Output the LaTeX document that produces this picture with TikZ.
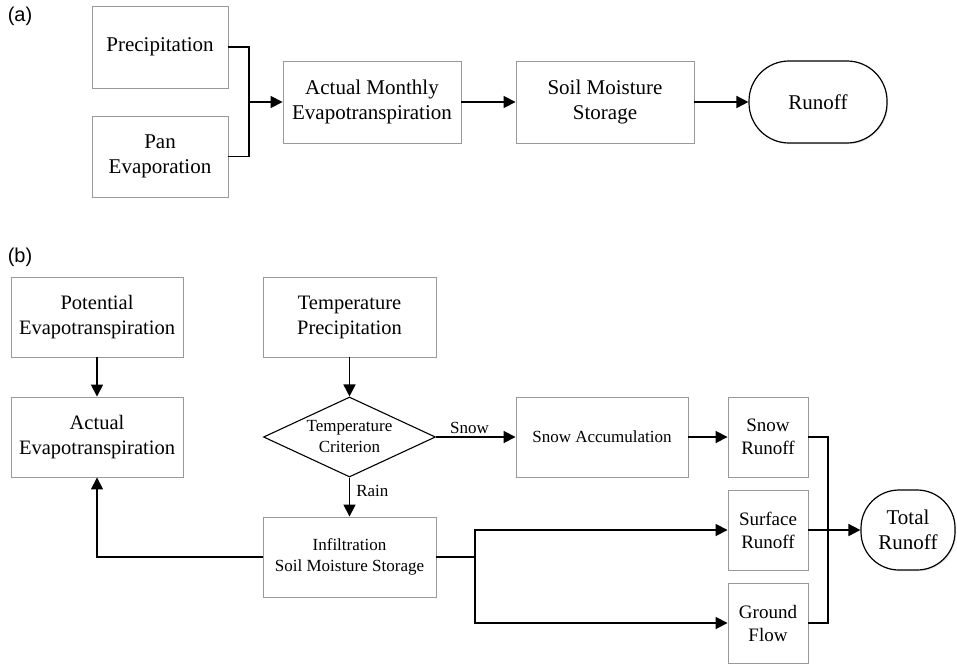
\documentclass[tikz,border=0pt]{standalone}
\usepackage{fontspec}
\setmainfont{Liberation Serif}
\newfontfamily\labelfont{Liberation Sans}
\usetikzlibrary{arrows.meta,shapes.geometric,shadows}
\tikzset{
  box/.style={draw=black!40, line width=0.9pt, fill=white, align=center, inner sep=2pt,
    drop shadow={opacity=0.18, shadow xshift=1.2pt, shadow yshift=-1.2pt}},
  term/.style={draw=black, line width=1.2pt, fill=white, align=center, inner sep=2pt,
    drop shadow={opacity=0.18, shadow xshift=1.2pt, shadow yshift=-1.2pt}},
  decis/.style={diamond, draw=black, line width=1.1pt, fill=white, inner sep=0pt,
    minimum width=172pt, minimum height=80pt},
  conn/.style={line width=1.7pt, draw=black},
  arr/.style={conn, -{Triangle[length=12pt,width=12pt]}},
  biga/.style={font=\fontsize{21}{25}\selectfont},
  big/.style={font=\fontsize{20.5}{25}\selectfont},
  mid/.style={font=\fontsize{17}{22}\selectfont},
  smr/.style={font=\fontsize{19}{23}\selectfont},
  sml/.style={font=\fontsize{17}{21}\selectfont},
  lbl/.style={font=\fontsize{17}{19}\selectfont, inner sep=1pt},
  panel/.style={font=\labelfont\fontsize{20}{22}\selectfont, inner sep=0pt},
}
\begin{document}
\begin{tikzpicture}[x=1pt,y=-1pt]
\useasboundingbox (0,0) rectangle (957,664);
% panel (a)
\node[panel] (la) at (20,16) {(a)};
\node[box,biga,minimum width=136pt,minimum height=82pt] (aprec) at (160,47) {Precipitation};
\node[box,biga,minimum width=136pt,minimum height=81pt] (apan) at (160,156.5) {Pan\\Evaporation};
\node[box,biga,minimum width=178pt,minimum height=82pt] (aamet) at (372,102) {Actual Monthly\\Evapotranspiration};
\node[box,biga,minimum width=178pt,minimum height=82pt] (asms) at (605,102) {Soil Moisture\\Storage};
\node[term,biga,minimum width=138pt,minimum height=82pt,rounded corners=40pt] (arun) at (818,102) {Runoff};
\coordinate (aj) at (249,102);
\draw[conn] (aprec.east) -| (aj);
\draw[conn] (apan.east) -| (aj);
\draw[arr] (aj) -- (aamet.west);
\draw[arr] (aamet.east) -- (asms.west);
\draw[arr] (asms.east) -- (arun.west);
% panel (b)
\node[panel] (lb) at (20,257) {(b)};
\node[box,big,minimum width=172pt,minimum height=80pt] (bpet) at (97,317) {Potential\\Evapotranspiration};
\node[box,big,minimum width=172pt,minimum height=80pt] (baet) at (97,437) {Actual\\Evapotranspiration};
\node[box,big,minimum width=173pt,minimum height=80pt] (btp) at (349.5,317) {Temperature\\Precipitation};
\node[decis, label={[sml,align=center]center:Temperature\\Criterion}] (bdia) at (349.5,437) {};
\node[box,sml,minimum width=173pt,minimum height=80pt] (binf) at (349.5,557) {Infiltration\\Soil Moisture Storage};
\node[box,mid,minimum width=172pt,minimum height=80pt] (bsa) at (602,437) {Snow Accumulation};
\node[box,smr,minimum width=80pt,minimum height=80pt] (bsr) at (768,437) {Snow\\Runoff};
\node[box,smr,minimum width=80pt,minimum height=80pt] (bsfr) at (768,530) {Surface\\Runoff};
\node[box,smr,minimum width=80pt,minimum height=80pt] (bgf) at (768,623) {Ground\\Flow};
\node[term,biga,minimum width=94pt,minimum height=80pt,rounded corners=38pt] (btr) at (908,530) {Total\\Runoff};
\draw[arr] (bpet.south) -- (baet.north);
\draw[arr] (btp.south) -- (bdia.north);
\draw[arr] (bdia.south) -- node[lbl,right,pos=0.35,xshift=5pt] (lrain) {Rain} (binf.north);
\draw[arr] (bdia.east) -- node[lbl,above,pos=0.42,yshift=1pt] (lsnow) {Snow} (bsa.west);
\draw[arr] (bsa.east) -- (bsr.west);
\draw[arr] (binf.west) -| (baet.south);
\coordinate (bj1) at (475,557);
\draw[conn] (binf.east) -- (bj1);
\draw[arr] (bj1) |- (bsfr.west);
\draw[arr] (bj1) |- (bgf.west);
\coordinate (bj2) at (828,530);
\draw[conn] (bsr.east) -| (bj2);
\draw[conn] (bgf.east) -| (bj2);
\draw[arr] (bsfr.east) -- (btr.west);
\end{tikzpicture}
\end{document}
